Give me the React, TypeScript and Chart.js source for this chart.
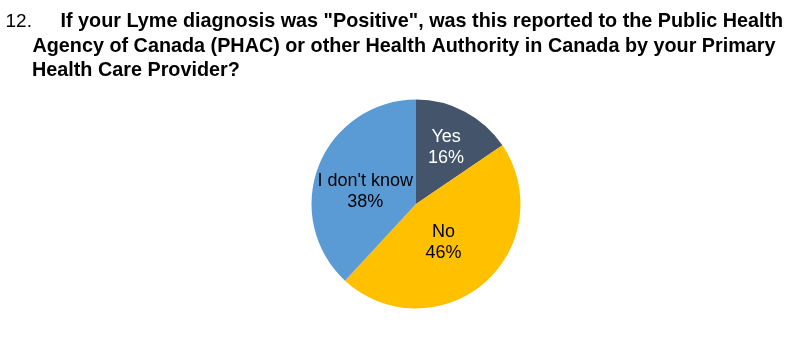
import React, { useEffect, useRef } from "react";
import { Chart, registerables } from "chart.js";

Chart.register(...registerables);

const categories: string[] = ["Yes", "No", "I don't know"];
const shares: number[] = [15.5, 46.4, 38.1];
const sliceColors: string[] = ["#44546A", "#FFC000", "#5B9BD5"];
const labelColors: string[] = ["#FFFFFF", "#000000", "#000000"];
const questionNumber = "12.";
const titleLines: string[] = [
  'If your Lyme diagnosis was "Positive", was this reported to the Public Health',
  "Agency of Canada (PHAC) or other Health Authority in Canada by your Primary",
  "Health Care Provider?",
];

const FONT = "'Liberation Sans', Arial, Helvetica, sans-serif";

const titlePlugin = {
  id: "questionTitle",
  afterDraw(chart: any) {
    const ctx = chart.ctx;
    ctx.save();
    ctx.fillStyle = "#000000";
    ctx.textBaseline = "alphabetic";
    ctx.textAlign = "left";
    ctx.font = `19px ${FONT}`;
    ctx.fillText(questionNumber, 5.5, 27);
    ctx.font = `bold 19.8px ${FONT}`;
    const xs = [60.5, 32.5, 32];
    const ys = [27, 51.5, 75.5];
    titleLines.forEach((t, i) => ctx.fillText(t, xs[i], ys[i]));
    ctx.restore();
  },
};

const sliceLabelPlugin = {
  id: "sliceLabels",
  afterDatasetsDraw(chart: any, _args: any, opts: any) {
    const ctx = chart.ctx;
    const meta = chart.getDatasetMeta(0);
    const data = chart.data.datasets[0].data as number[];
    const total = data.reduce((a, b) => a + b, 0);
    const pos = opts.positions || [];
    ctx.save();
    ctx.font = `18px ${FONT}`;
    ctx.textAlign = "center";
    ctx.textBaseline = "middle";
    meta.data.forEach((arc: any, i: number) => {
      const p = arc.getProps(["x", "y", "startAngle", "endAngle", "outerRadius"], true);
      const cfg = pos[i] || { r: 0.55, da: 0 };
      const mid = (p.startAngle + p.endAngle) / 2 + (cfg.da * Math.PI) / 180;
      const rr = p.outerRadius * cfg.r;
      const cx = p.x + Math.cos(mid) * rr;
      const cy = p.y + Math.sin(mid) * rr;
      const pct = Math.round((data[i] / total) * 100) + "%";
      ctx.fillStyle = labelColors[i];
      ctx.fillText(chart.data.labels[i], cx, cy - 10.5);
      ctx.fillText(pct, cx, cy + 10.5);
    });
    ctx.restore();
  },
};

export default function App() {
  const ref = useRef<HTMLCanvasElement | null>(null);
  useEffect(() => {
    if (!ref.current) return;
    const chart = new Chart(ref.current, {
      type: "pie",
      data: {
        labels: categories,
        datasets: [
          {
            data: shares,
            backgroundColor: sliceColors,
            borderWidth: 0,
          },
        ],
      },
      options: {
        responsive: false,
        animation: false,
        layout: { padding: { left: 311.5, right: 280.5, top: 99.5, bottom: 43.5 } },
        plugins: {
          legend: { display: false },
          tooltip: { enabled: false },
          title: { display: false },
          sliceLabels: {
            positions: [
              { r: 0.615, da: 0 },
              { r: 0.45, da: 5 },
              { r: 0.5, da: -8 },
            ],
          },
        } as any,
      },
      plugins: [titlePlugin, sliceLabelPlugin],
    });
    return () => chart.destroy();
  }, []);
  return (
    <div style={{ position: "fixed", left: 0, top: 0, width: 801, height: 352, background: "#ffffff" }}>
      <canvas ref={ref} width={801} height={352} style={{ display: "block", width: 801, height: 352 }} />
    </div>
  );
}
